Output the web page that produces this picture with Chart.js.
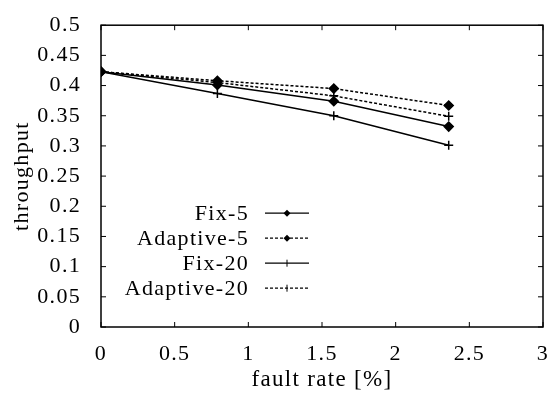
<!DOCTYPE html>
<html>
<head>
<meta charset="utf-8">
<script src="https://cdn.jsdelivr.net/npm/chart.js@4/dist/chart.umd.min.js"></script>
<style>
  html, body { margin: 0; padding: 0; background: #fff; }
  #wrap { width: 557px; height: 394px; }
</style>
</head>
<body>
<div id="wrap"><canvas id="chart" width="557" height="394"></canvas></div>
<script>
// fault rate [%] of each measured point
const faultRates = [0, 0.79, 1.58, 2.36];

// throughput per scheme
const fix5 = [0.423, 0.401, 0.374, 0.332];
const adaptive5 = [0.423, 0.408, 0.395, 0.367];
const fix20 = [0.423, 0.387, 0.350, 0.301];
const adaptive20 = [0.423, 0.405, 0.383, 0.349];

const seriesNames = ['Fix-5', 'Adaptive-5', 'Fix-20', 'Adaptive-20'];
const xTicks = [0, 0.5, 1, 1.5, 2, 2.5, 3];
const yTicks = [0, 0.05, 0.1, 0.15, 0.2, 0.25, 0.3, 0.35, 0.4, 0.45, 0.5];

const FONT = '"Liberation Serif", "Times New Roman", serif';

function toPoints(ys) {
    return faultRates.map((x, i) => ({ x: x, y: ys[i] }));
}

function makeSet(label, ys, marker, dashed) {
    return {
        label: label,
        data: toPoints(ys),
        borderColor: '#000',
        backgroundColor: '#000',
        borderWidth: 1.5,
        borderDash: dashed ? [3, 2] : [],
        pointStyle: marker,
        pointRadius: 4.5,
        pointBorderWidth: 1.5,
        tension: 0
    };
}

// the scanned lettering is wider than the serif font, so space it out a bit
const spacingPlugin = {
    id: 'spacing',
    beforeLayout(chart) { chart.ctx.letterSpacing = '1.3px'; },
    beforeDraw(chart) { chart.ctx.letterSpacing = '1.3px'; }
};

// frame, inward ticks on all four sides, and the in-plot legend
const framePlugin = {
    id: 'frame',
    afterDatasetsDraw(chart) {
        const { ctx, chartArea: a, scales } = chart;
        ctx.save();
        ctx.strokeStyle = '#000';
        ctx.lineWidth = 1.5;
        ctx.setLineDash([]);
        ctx.strokeRect(a.left, a.top, a.right - a.left, a.bottom - a.top);
        ctx.lineWidth = 1;
        ctx.beginPath();
        xTicks.forEach(v => {
            const px = scales.x.getPixelForValue(v);
            ctx.moveTo(px, a.bottom); ctx.lineTo(px, a.bottom - 5);
            ctx.moveTo(px, a.top); ctx.lineTo(px, a.top + 5);
        });
        yTicks.forEach(v => {
            const py = scales.y.getPixelForValue(v);
            ctx.moveTo(a.left, py); ctx.lineTo(a.left + 5, py);
            ctx.moveTo(a.right, py); ctx.lineTo(a.right - 5, py);
        });
        ctx.stroke();

        // legend
        ctx.font = '22px ' + FONT;
        ctx.fillStyle = '#000';
        ctx.textAlign = 'right';
        ctx.textBaseline = 'middle';
        const textRight = a.left + 148;
        const lineX0 = a.left + 164;
        const lineX1 = a.left + 208;
        chart.data.datasets.forEach((ds, i) => {
            const y = a.top + 188 + i * 25;
            ctx.fillText(ds.label, textRight, y + 1);
            ctx.beginPath();
            ctx.lineWidth = 1.2;
            ctx.setLineDash(ds.borderDash);
            ctx.moveTo(lineX0, y);
            ctx.lineTo(lineX1, y);
            ctx.stroke();
            ctx.setLineDash([]);
            const mx = (lineX0 + lineX1) / 2;
            ctx.beginPath();
            if (ds.pointStyle === 'rectRot') {
                ctx.moveTo(mx, y - 3.5); ctx.lineTo(mx + 3.5, y);
                ctx.lineTo(mx, y + 3.5); ctx.lineTo(mx - 3.5, y);
                ctx.closePath();
                ctx.fill();
            } else {
                ctx.lineWidth = 1;
                ctx.moveTo(mx, y - 3.5); ctx.lineTo(mx, y + 3.5);
                ctx.stroke();
            }
        });
        ctx.restore();
    }
};

new Chart(document.getElementById('chart'), {
    type: 'line',
    data: {
        datasets: [
            makeSet(seriesNames[0], fix5, 'rectRot', false),
            makeSet(seriesNames[1], adaptive5, 'rectRot', true),
            makeSet(seriesNames[2], fix20, 'cross', false),
            makeSet(seriesNames[3], adaptive20, 'cross', true)
        ]
    },
    options: {
        responsive: false,
        animation: false,
        layout: { padding: { top: 18, right: 14, left: 0, bottom: 0 } },
        plugins: {
            legend: { display: false },
            tooltip: { enabled: false }
        },
        scales: {
            x: {
                type: 'linear',
                min: 0,
                max: 3,
                afterBuildTicks: s => { s.ticks = xTicks.map(v => ({ value: v })); },
                afterFit: s => { s.height = 67; },
                grid: { display: false },
                border: { display: false },
                ticks: {
                    color: '#000',
                    font: { family: FONT, size: 22 },
                    padding: 6,
                    maxRotation: 0,
                    callback: v => String(v)
                },
                title: {
                    display: true,
                    text: 'fault rate [%]',
                    color: '#000',
                    font: { family: FONT, size: 23 },
                    padding: { top: 0, bottom: 0 }
                }
            },
            y: {
                type: 'linear',
                min: 0,
                max: 0.5,
                afterBuildTicks: s => { s.ticks = yTicks.map(v => ({ value: v })); },
                afterFit: s => { s.width = 101; },
                grid: { display: false },
                border: { display: false },
                ticks: {
                    color: '#000',
                    font: { family: FONT, size: 22 },
                    padding: 12,
                    callback: v => String(v)
                },
                title: {
                    display: true,
                    text: 'throughput',
                    color: '#000',
                    font: { family: FONT, size: 22 },
                    padding: { top: 9, bottom: 0 }
                }
            }
        }
    },
    plugins: [spacingPlugin, framePlugin]
});
</script>
</body>
</html>
